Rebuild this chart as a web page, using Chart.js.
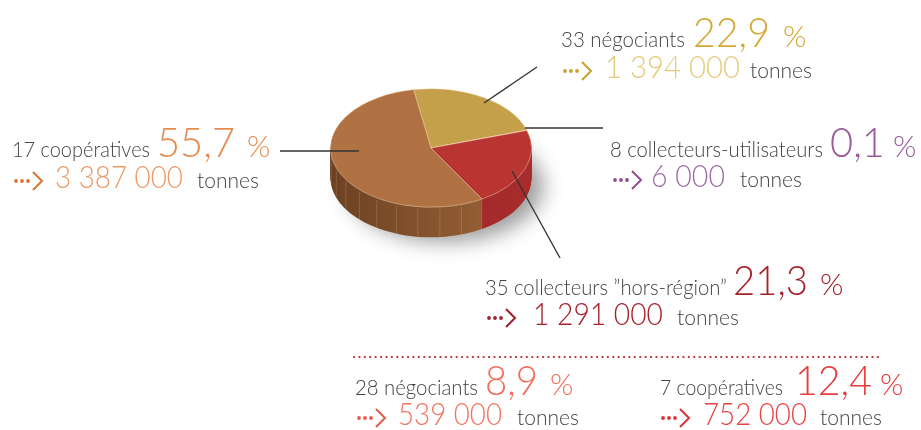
<!DOCTYPE html>
<html><head><meta charset="utf-8">
<script src="https://cdn.jsdelivr.net/npm/chart.js@4/dist/chart.umd.min.js"></script>
<style>
html,body{margin:0;padding:0;background:#fff;}
#wrap{position:relative;width:921px;height:430px;overflow:hidden;}
#c,#ov{position:absolute;left:0;top:0;}
#ov text{font-family:Lato,Roboto,"Open Sans",sans-serif;font-weight:300;}
</style></head>
<body>
<div id="wrap">
<canvas id="c" width="921" height="430"></canvas>
<svg id="ov" width="921" height="430" xmlns="http://www.w3.org/2000/svg"></svg>
</div>
<script>
// ---- DATA ----
const categories = ['négociants', 'collecteurs-utilisateurs', '”hors-région”', 'coopératives'];
const categoryPrefix = ['', '', 'collecteurs ', ''];
const counts = [33, 8, 35, 17];
const shares = [22.9, 0.1, 21.3, 55.7];
const tonnes = [1394000, 6000, 1291000, 3387000];
// breakdown of the "hors-région" collectors
const subCategories = ['négociants', 'coopératives'];
const subCounts = [28, 7];
const subShares = [8.9, 12.4];
const subTonnes = [539000, 752000];

// ---- STYLE / LAYOUT ----
const topColors = ['#C4A04A', '#C79CBC', '#B93532', '#B07243'];
const sideStops = [['#8E7030', '#A88838'], ['#8E6484', '#A07898'], ['#982226', '#A82C2C'], ['#6C4122', '#A0673A']];
const K = 0.59, DEPTH = 30;

const pie3d = {
  id: 'pie3d',
  beforeDatasetsDraw(chart) {
    const ctx = chart.ctx;
    const arcs = chart.getDatasetMeta(0).data;
    const cx = arcs[0].x, cy = arcs[0].y, R = arcs[0].outerRadius;
    // drop shadow
    ctx.save();
    ctx.filter = 'blur(10px)';
    ctx.fillStyle = 'rgba(0,0,0,0.38)';
    ctx.beginPath();
    ctx.ellipse(cx + 14, cy + DEPTH + 8, R * 0.98, R * K * 0.95, 0, 0, Math.PI * 2);
    ctx.fill();
    ctx.restore();
    // side walls
    for (let d = DEPTH; d >= 1; d--) {
      arcs.forEach((a, i) => {
        ctx.save();
        ctx.translate(0, d);
        ctx.translate(cx, cy); ctx.scale(1, K); ctx.translate(-cx, -cy);
        const g = ctx.createLinearGradient(cx - R, 0, cx + R, 0);
        g.addColorStop(0, sideStops[i][0]);
        g.addColorStop(1, sideStops[i][1]);
        ctx.fillStyle = g;
        ctx.beginPath();
        ctx.moveTo(cx, cy);
        ctx.arc(cx, cy, a.outerRadius, a.startAngle, a.endAngle);
        ctx.closePath();
        ctx.fill();
        ctx.restore();
      });
    }
    // faint facet lines on the wall
    ctx.save();
    ctx.strokeStyle = 'rgba(255,220,190,0.18)';
    ctx.lineWidth = 1;
    for (let t = 0.15; t < 0.5; t += 0.035) {
      const ang = Math.PI * t * 2 + 0.1;
      const x = cx + R * Math.cos(ang), y = cy + R * K * Math.sin(ang);
      if (Math.sin(ang) > 0.05) {
        ctx.beginPath(); ctx.moveTo(x, y + 2); ctx.lineTo(x, y + DEPTH); ctx.stroke();
      }
    }
    ctx.restore();
    // squash the top face
    ctx.save();
    ctx.translate(cx, cy); ctx.scale(1, K); ctx.translate(-cx, -cy);
  },
  afterDatasetsDraw(chart) {
    chart.ctx.restore();
  }
};

new Chart(document.getElementById('c'), {
  type: 'pie',
  data: {
    labels: categories,
    datasets: [{
      data: shares,
      backgroundColor: topColors,
      borderColor: 'rgba(255,225,195,0.55)',
      borderWidth: 1
    }]
  },
  options: {
    responsive: false,
    animation: false,
    events: [],
    rotation: -10,
    layout: { padding: { left: 330, right: 389, top: 47, bottom: 181 } },
    plugins: { legend: { display: false }, tooltip: { enabled: false } }
  },
  plugins: [pie3d]
});

// ---- ANNOTATIONS (SVG text) ----
const NS = 'http://www.w3.org/2000/svg';
const svg = document.getElementById('ov');
function el(name, attrs, text) {
  const e = document.createElementNS(NS, name);
  for (const k in attrs) e.setAttribute(k, attrs[k]);
  if (text !== undefined) e.textContent = text;
  svg.appendChild(e);
  return e;
}
const fmtPct = v => String(v).replace('.', ',');
const fmtT = v => String(v).replace(/\B(?=(\d{3})+(?!\d))/g, ' ');
function arrow(x, y, col) {
  for (let k = 0; k < 3; k++) el('circle', { cx: x + 2 + k * 6, cy: y - 7, r: 1.9, fill: col });
  el('path', { d: `M${x + 19} ${y - 16} L${x + 28} ${y - 7} L${x + 19} ${y + 2}`, fill: 'none', stroke: col, 'stroke-width': 2 });
}
function block(b, label, pct, t) {
  el('text', { x: b.x, y: b.y1, 'font-size': 21, fill: '#444', textLength: b.lw, lengthAdjust: 'spacingAndGlyphs' }, label);
  el('text', { x: b.x + b.big, y: b.y1, 'font-size': 42, fill: b.c1, textLength: b.bw, lengthAdjust: 'spacingAndGlyphs' }, fmtPct(pct));
  el('text', { x: b.x + b.pc, y: b.y1, 'font-size': 30, fill: b.c1 }, '%');
  arrow(b.x + b.ar, b.y2, b.ca);
  el('text', { x: b.x + b.num, y: b.y2, 'font-size': 31, fill: b.c2, textLength: b.nw, lengthAdjust: 'spacingAndGlyphs' }, fmtT(t));
  el('text', { x: b.x + b.tn, y: b.y2, 'font-size': 21, fill: '#444' }, 'tonnes');
}
const blocks = [
  { x: 561, y1: 47, y2: 78, lw: 124, big: 132, bw: 77, pc: 222, ar: 2, num: 44, nw: 135, tn: 189, c1: '#D4A832', c2: '#E6CA7C', ca: '#C9A030' },
  { x: 610, y1: 157, y2: 187, lw: 213, big: 220, bw: 55, pc: 283, ar: 3, num: 41, nw: 74, tn: 130, c1: '#9A5A9A', c2: '#A06CA8', ca: '#8E4E8E' },
  { x: 485, y1: 295, y2: 325, lw: 242, big: 248, bw: 75, pc: 335, ar: 2, num: 48, nw: 130, tn: 192, c1: '#A52028', c2: '#A52028', ca: '#A0222A' },
  { x: 12, y1: 157, y2: 188, lw: 138, big: 145, bw: 78, pc: 235, ar: 2, num: 43, nw: 128, tn: 185, c1: '#E58C52', c2: '#EC9A66', ca: '#DA7434' }
];
categories.forEach((c, i) => block(blocks[i], counts[i] + ' ' + categoryPrefix[i] + c, shares[i], tonnes[i]));

const subBlocks = [
  { x: 355, y1: 395, y2: 425, lw: 123, big: 130, bw: 53, pc: 195, ar: 2, num: 43, nw: 104, tn: 162, c1: '#F26E5E', c2: '#F27462', ca: '#E85A4A' },
  { x: 660, y1: 395, y2: 425, lw: 123, big: 135, bw: 77, pc: 220, ar: 1, num: 43, nw: 104, tn: 160, c1: '#E63C3C', c2: '#E84444', ca: '#E03434' }
];
subCategories.forEach((c, i) => block(subBlocks[i], subCounts[i] + ' ' + c, subShares[i], subTonnes[i]));

// dotted separator
el('line', { x1: 354, y1: 357, x2: 880, y2: 357, stroke: '#C0282C', 'stroke-width': 2.2, 'stroke-dasharray': '0.1 5.3', 'stroke-linecap': 'round' });

// leader lines
const leaders = [[537, 67, 484, 103], [603, 128, 525, 128], [560, 258, 512, 171], [280, 151, 359, 151]];
leaders.forEach(l => el('line', { x1: l[0], y1: l[1], x2: l[2], y2: l[3], stroke: '#333', 'stroke-width': 1.3 }));
</script>
</body></html>
